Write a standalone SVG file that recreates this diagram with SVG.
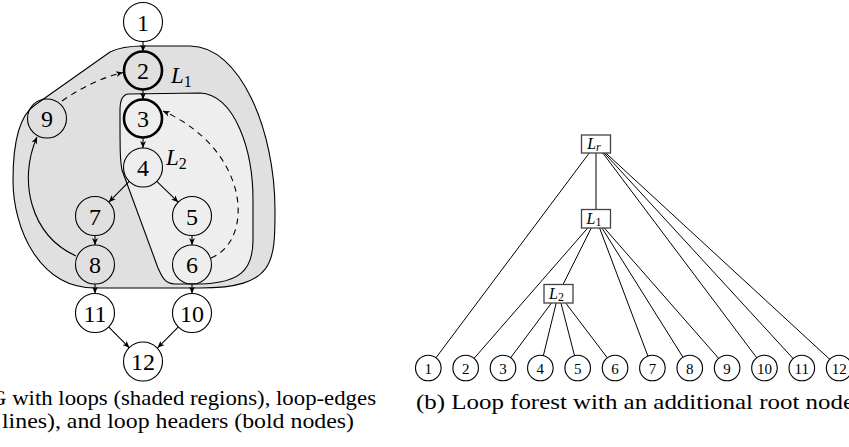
<svg xmlns="http://www.w3.org/2000/svg" width="849" height="447" viewBox="0 0 849 447">
<style>
.n{fill:none;stroke:#000;stroke-width:1.1}
.w{fill:#fff;stroke:#000;stroke-width:1.1}
.b{fill:none;stroke:#000;stroke-width:2.6}
.t{font-family:"Liberation Serif","DejaVu Serif",serif;font-size:24px;text-anchor:middle;fill:#000}
.s{font-family:"Liberation Serif","DejaVu Serif",serif;font-size:15px;text-anchor:middle;fill:#000}
.lab{font-family:"Liberation Serif","DejaVu Serif",serif;font-style:italic;fill:#000}
.e{fill:none;stroke:#000;stroke-width:1.1}
.d{fill:none;stroke:#000;stroke-width:1.1;stroke-dasharray:6 5}
.tl{fill:none;stroke:#000;stroke-width:1}
.box{fill:#fff;stroke:#444;stroke-width:1.3}
.cap{font-family:"Liberation Serif","DejaVu Serif",serif;font-size:22px;fill:#000}
</style>
<defs>
<marker id="ah" markerWidth="8" markerHeight="8" refX="7" refY="4" orient="auto" markerUnits="userSpaceOnUse"><path d="M0,1 L7,4 L0,7 L2,4 z" fill="#000"/></marker>
</defs>
<g id="regions">
<path id="loop-L1" d="M143 46 L190 46 C240 46 275 130 275 210 C275 262 275 288 200 288 L95 288 C40 288 13 230 13 180 C13 140 20 115 35 105 L110 52 C120 47 130 46 143 46 Z" fill="#e0e0e0" stroke="#000" stroke-width="1.1"/>
<path id="loop-L2" d="M128 94 L200 93 C235 95 253 150 253 200 L253 240 C253 270 240 283 200 284 L175 284 C165 284 162 277 158 268 L122 170 C120 160 120 150 120 110 C120 100 122 95 128 94 Z" fill="#eeeeee" stroke="#000" stroke-width="1.1"/>
</g>
<g id="n1"><circle class="w" cx="143" cy="22" r="19.5"/><text class="t" x="143" y="30.5">1</text></g>
<g id="n2"><circle class="b" cx="143" cy="70.5" r="19"/><text class="t" x="143" y="79">2</text></g>
<g id="n3"><circle class="b" cx="143" cy="118.5" r="19"/><text class="t" x="143" y="127">3</text></g>
<g id="n4"><circle class="n" cx="143" cy="167.5" r="19.5"/><text class="t" x="143" y="176">4</text></g>
<g id="n9"><circle class="n" cx="47" cy="118.5" r="19.5"/><text class="t" x="47" y="127">9</text></g>
<g id="n7"><circle class="n" cx="95" cy="216" r="19.5"/><text class="t" x="95" y="224.5">7</text></g>
<g id="n5"><circle class="n" cx="192" cy="216" r="19.5"/><text class="t" x="192" y="224.5">5</text></g>
<g id="n8"><circle class="n" cx="95" cy="264.5" r="19.5"/><text class="t" x="95" y="273">8</text></g>
<g id="n6"><circle class="n" cx="192" cy="264.5" r="19.5"/><text class="t" x="192" y="273">6</text></g>
<g id="n11"><circle class="w" cx="95" cy="313" r="19.5"/><text class="t" x="95" y="321.5">11</text></g>
<g id="n10"><circle class="w" cx="192" cy="313" r="19.5"/><text class="t" x="192" y="321.5">10</text></g>
<g id="n12"><circle class="w" cx="143" cy="361.5" r="19.5"/><text class="t" x="143" y="370">12</text></g>
<g id="labels">
<text class="lab" x="171" y="83" font-size="23">L<tspan font-style="normal" font-size="16" dy="4">1</tspan></text>
<text class="lab" x="166" y="165" font-size="23">L<tspan font-style="normal" font-size="16" dy="4">2</tspan></text>
</g>
<g id="edges">
<line class="e" x1="143" y1="41.5" x2="143" y2="51.5" marker-end="url(#ah)"/>
<line class="e" x1="143" y1="89.5" x2="143" y2="99.5" marker-end="url(#ah)"/>
<line class="e" x1="143" y1="137.5" x2="143" y2="148" marker-end="url(#ah)"/>
<line class="e" x1="129.2" y1="181.3" x2="108.8" y2="202.2" marker-end="url(#ah)"/>
<line class="e" x1="156.8" y1="181.3" x2="178.2" y2="202.2" marker-end="url(#ah)"/>
<line class="e" x1="95" y1="235.5" x2="95" y2="245" marker-end="url(#ah)"/>
<line class="e" x1="192" y1="235.5" x2="192" y2="245" marker-end="url(#ah)"/>
<line class="e" x1="95" y1="284" x2="95" y2="293.5" marker-end="url(#ah)"/>
<line class="e" x1="192" y1="284" x2="192" y2="293.5" marker-end="url(#ah)"/>
<line class="e" x1="108.6" y1="326.9" x2="129.4" y2="347.8" marker-end="url(#ah)"/>
<line class="e" x1="178.4" y1="326.9" x2="157.6" y2="347.8" marker-end="url(#ah)"/>
<path class="e" d="M76 256 C30 235 18 180 37 137" marker-end="url(#ah)"/>
<path class="d" d="M62 101 Q92 80 123 72.5" marker-end="url(#ah)"/>
<path class="d" d="M211 258 C255 240 250 150 163 111" marker-end="url(#ah)"/>
</g>
<g id="tree-edges">
<line class="tl" x1="596" y1="144" x2="596" y2="218.5"/>
<line class="tl" x1="596" y1="144" x2="428.3" y2="368"/>
<line class="tl" x1="596" y1="144" x2="764.45" y2="368"/>
<line class="tl" x1="596" y1="144" x2="801.8" y2="368"/>
<line class="tl" x1="596" y1="144" x2="839.15" y2="368"/>
<line class="tl" x1="596" y1="218.5" x2="558.5" y2="293.5"/>
<line class="tl" x1="596" y1="218.5" x2="465.65" y2="368"/>
<line class="tl" x1="596" y1="218.5" x2="652.4" y2="368"/>
<line class="tl" x1="596" y1="218.5" x2="689.75" y2="368"/>
<line class="tl" x1="596" y1="218.5" x2="727.1" y2="368"/>
<line class="tl" x1="558.5" y1="293.5" x2="503" y2="368"/>
<line class="tl" x1="558.5" y1="293.5" x2="540.35" y2="368"/>
<line class="tl" x1="558.5" y1="293.5" x2="577.7" y2="368"/>
<line class="tl" x1="558.5" y1="293.5" x2="615.05" y2="368"/>
</g>
<g id="Lr"><rect class="box" x="581.5" y="135" width="29" height="18"/><text class="lab" x="594" y="149" font-size="16" text-anchor="middle">L<tspan font-size="12" dy="2">r</tspan></text></g>
<g id="L1"><rect class="box" x="581.5" y="209.5" width="29" height="18.5"/><text class="lab" x="594" y="223.5" font-size="16" text-anchor="middle">L<tspan font-style="normal" font-size="12" dy="2">1</tspan></text></g>
<g id="L2"><rect class="box" x="544" y="284.5" width="29" height="18.5"/><text class="lab" x="556.5" y="298.5" font-size="16" text-anchor="middle">L<tspan font-style="normal" font-size="12" dy="2">2</tspan></text></g>
<g id="leaves">
<g id="t1"><circle class="w" cx="428.3" cy="368" r="12.8"/><text class="s" x="428.3" y="373.5">1</text></g>
<g id="t2"><circle class="w" cx="465.65" cy="368" r="12.8"/><text class="s" x="465.65" y="373.5">2</text></g>
<g id="t3"><circle class="w" cx="503" cy="368" r="12.8"/><text class="s" x="503" y="373.5">3</text></g>
<g id="t4"><circle class="w" cx="540.35" cy="368" r="12.8"/><text class="s" x="540.35" y="373.5">4</text></g>
<g id="t5"><circle class="w" cx="577.7" cy="368" r="12.8"/><text class="s" x="577.7" y="373.5">5</text></g>
<g id="t6"><circle class="w" cx="615.05" cy="368" r="12.8"/><text class="s" x="615.05" y="373.5">6</text></g>
<g id="t7"><circle class="w" cx="652.4" cy="368" r="12.8"/><text class="s" x="652.4" y="373.5">7</text></g>
<g id="t8"><circle class="w" cx="689.75" cy="368" r="12.8"/><text class="s" x="689.75" y="373.5">8</text></g>
<g id="t9"><circle class="w" cx="727.1" cy="368" r="12.8"/><text class="s" x="727.1" y="373.5">9</text></g>
<g id="t10"><circle class="w" cx="764.45" cy="368" r="12.8"/><text class="s" x="764.45" y="373.5">10</text></g>
<g id="t11"><circle class="w" cx="801.8" cy="368" r="12.8"/><text class="s" x="801.8" y="373.5">11</text></g>
<g id="t12"><circle class="w" cx="839.15" cy="368" r="12.8"/><text class="s" x="839.15" y="373.5">12</text></g>
</g>
<g id="captions">
<text class="cap" x="-10" y="405" textLength="386" lengthAdjust="spacingAndGlyphs">G with loops (shaded regions), loop-edges</text>
<text class="cap" x="2" y="428" textLength="352" lengthAdjust="spacingAndGlyphs">lines), and loop headers (bold nodes)</text>
<text class="cap" x="416" y="409" textLength="438" lengthAdjust="spacingAndGlyphs">(b) Loop forest with an additional root node</text>
</g>
</svg>
